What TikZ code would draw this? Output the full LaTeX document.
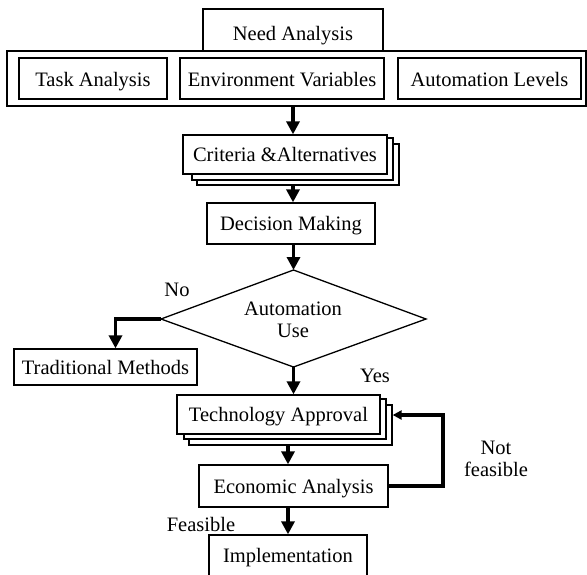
\documentclass[tikz,border=0pt]{standalone}
\usepackage{fontspec}
\setmainfont{Liberation Serif}
\usetikzlibrary{arrows.meta,calc}
\newcommand{\mysize}{\fontsize{20.5}{22}\selectfont}
\begin{document}
\begin{tikzpicture}[x=1pt,y=-1pt,
  box/.style 2 args={draw, line width=1.3pt, fill=white, inner sep=0pt,
    minimum width=#1pt, minimum height=#2pt, font=\mysize,
    text height=14pt, text depth=0pt},
  lbl/.style={inner sep=0pt, font=\mysize, align=center},
  flow/.style={line width=3.5pt, line join=miter, -{Triangle[length=13pt,width=13pt]}},
  fback/.style={line width=3.5pt, line join=miter, -{Triangle[length=9pt,width=9pt]}},
  dline/.style={line width=1.3pt, line join=miter}]
\useasboundingbox (0,0) rectangle (587,574);

% top group
\node[box={579}{55}] (outer) at (296.5,78.5) {};
\node[box={180}{42}, text height=20pt] (need) at (293,30) {Need Analysis};
\node[box={148}{41}, text height=16pt] (task) at (93,78.5) {Task Analysis};
\node[box={204}{41}, text height=16pt] (env) at (282,78.5) {Environment Variables};
\node[box={183}{41}, text height=16pt] (autol) at (489.5,78.5) {Automation Levels};

% criteria (stacked)
\node[box={202}{41}] (crit3) at (298,164.5) {};
\node[box={201}{42}] (crit2) at (292.5,159) {};
\node[box={204}{39}] (crit) at (285,154.5) {Criteria \&Alternatives};

\node[box={168}{41}] (dec) at (291,223.5) {Decision Making};

% decision diamond
\coordinate (dtop) at (293.5,270);
\coordinate (dright) at (426,319);
\coordinate (dbot) at (293.5,367);
\coordinate (dleft) at (161,319);
\draw[dline] (dtop) -- (dright) -- (dbot) -- (dleft) -- cycle;
\node[lbl] (auto) at (293,319.5) {Automation\\Use};

\node[box={183}{36}] (trad) at (105.5,367) {Traditional Methods};

% technology approval (stacked)
\node[box={203}{40}] (tech3) at (290.5,425) {};
\node[box={202}{40}] (tech2) at (285,419) {};
\node[box={203}{39}] (tech) at (278.5,414.5) {Technology Approval};

\node[box={189}{42}] (econ) at (293.5,486) {Economic Analysis};
\node[box={158}{41}] (impl) at (288,555.5) {Implementation};

% labels
\node[lbl] (no) at (177,290) {No};
\node[lbl] (yes) at (375,376) {Yes};
\node[lbl] (notf) at (496,458.5) {Not\\feasible};
\node[lbl] (feas) at (201,524) {Feasible};

% connectors
\draw[flow] (outer.south -| need.south) -- (crit.north -| need.south);
\draw[flow] (crit3.south -| need.south) -- (dec.north -| need.south);
\draw[flow] (dec.south -| dtop) -- (dtop);
\draw[flow] (dleft) -| ($(trad.north)+(10,0)$);
\draw[flow] (dbot) -- (tech.north -| dbot);
\draw[flow] (tech3.south -| impl.north) -- (econ.north -| impl.north);
\draw[flow] (econ.south -| impl.north) -- (impl.north);
\coordinate (fb) at (443,415);
\draw[fback] (econ.east) -| (fb) -- (fb -| tech3.east);
\end{tikzpicture}
\end{document}
